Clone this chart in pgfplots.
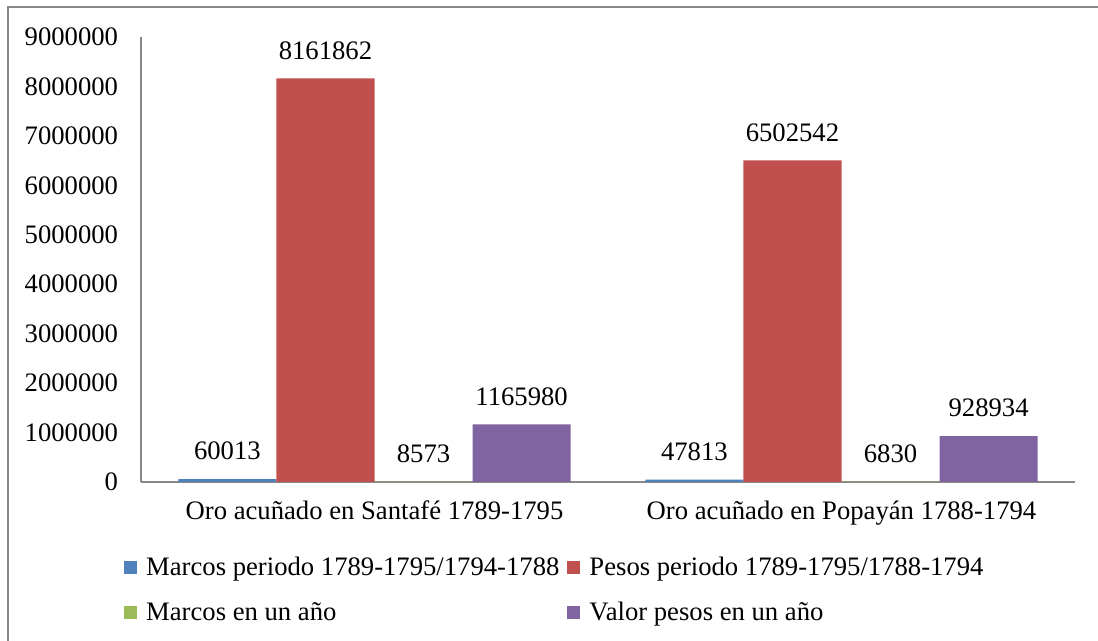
\documentclass[border=0pt]{standalone}
\usepackage{pgfplots}
\pgfplotsset{compat=1.18}
\usepackage{fontspec}
\setmainfont{Liberation Serif}
\definecolor{cblue}{HTML}{4F81BD}
\definecolor{cred}{HTML}{C0504D}
\definecolor{cgreen}{HTML}{9BBB59}
\definecolor{cpurple}{HTML}{8064A2}
\definecolor{cframe}{HTML}{878787}
\begin{document}
\begin{tikzpicture}
\useasboundingbox (0pt,0pt) rectangle (823.5pt,480.75pt);
\draw[color=cframe, line width=1.5pt] (6pt,0pt) -- (6pt,475.5pt) -- (823.5pt,475.5pt);
\begin{axis}[
  at={(105.75pt,119.25pt)}, anchor=south west,
  scale only axis, width=700.5pt, height=333.75pt,
  xmin=-0.5, xmax=1.5, ymin=0, ymax=9000000,
  axis lines*=left,
  axis line style={draw=cframe, line width=1.5pt},
  xtick={0,1},
  xticklabels={Oro acuñado en Santafé 1789-1795, Oro acuñado en Popayán 1788-1794},
  ytick={0,1000000,2000000,3000000,4000000,5000000,6000000,7000000,8000000,9000000},
  scaled y ticks=false,
  yticklabel style={/pgf/number format/fixed, /pgf/number format/1000 sep={}, anchor=east, inner sep=0pt, xshift=-17pt},
  xticklabel style={anchor=north, inner sep=0pt, yshift=-14pt},
  /pgf/number format/assume math mode=true,
  major tick length=0pt,
  every tick label/.append style={font=\fontsize{20}{24}\selectfont},
  ybar, bar width=0.21,
  point meta=explicit symbolic,
  nodes near coords,
  every node near coord/.append style={font=\fontsize{20}{24}\selectfont, anchor=center, yshift=21pt},
  legend columns=2,
  legend cell align=left,
  legend style={draw=none, fill=none, font=\fontsize{20}{24}\selectfont,
    at={(axis description cs:-0.019,-0.16)}, anchor=north west,
    row sep=12pt, inner sep=0pt,
    /tikz/every odd column/.append style={column sep=4pt},
    /tikz/every even column/.append style={column sep=2.5pt},
    nodes={inner sep=3pt}},
  legend image code/.code={\fill[#1, draw=none] (0pt,-5pt) rectangle (10pt,5pt);},
]
\addplot[fill=cblue, draw=none, bar shift=-0.315] coordinates {(0,60013) [60013] (1,47813) [47813]};
\addplot[fill=cred, draw=none, bar shift=-0.105] coordinates {(0,8161862) [8161862] (1,6502542) [6502542]};
\addplot[fill=cgreen, draw=none, bar shift=0.105] coordinates {(0,8573) [8573] (1,6830) [6830]};
\addplot[fill=cpurple, draw=none, bar shift=0.315] coordinates {(0,1165980) [1165980] (1,928934) [928934]};
\legend{Marcos periodo 1789-1795/1794-1788, Pesos periodo 1789-1795/1788-1794, Marcos en un año, Valor pesos en un año}
\end{axis}
\end{tikzpicture}
\end{document}
